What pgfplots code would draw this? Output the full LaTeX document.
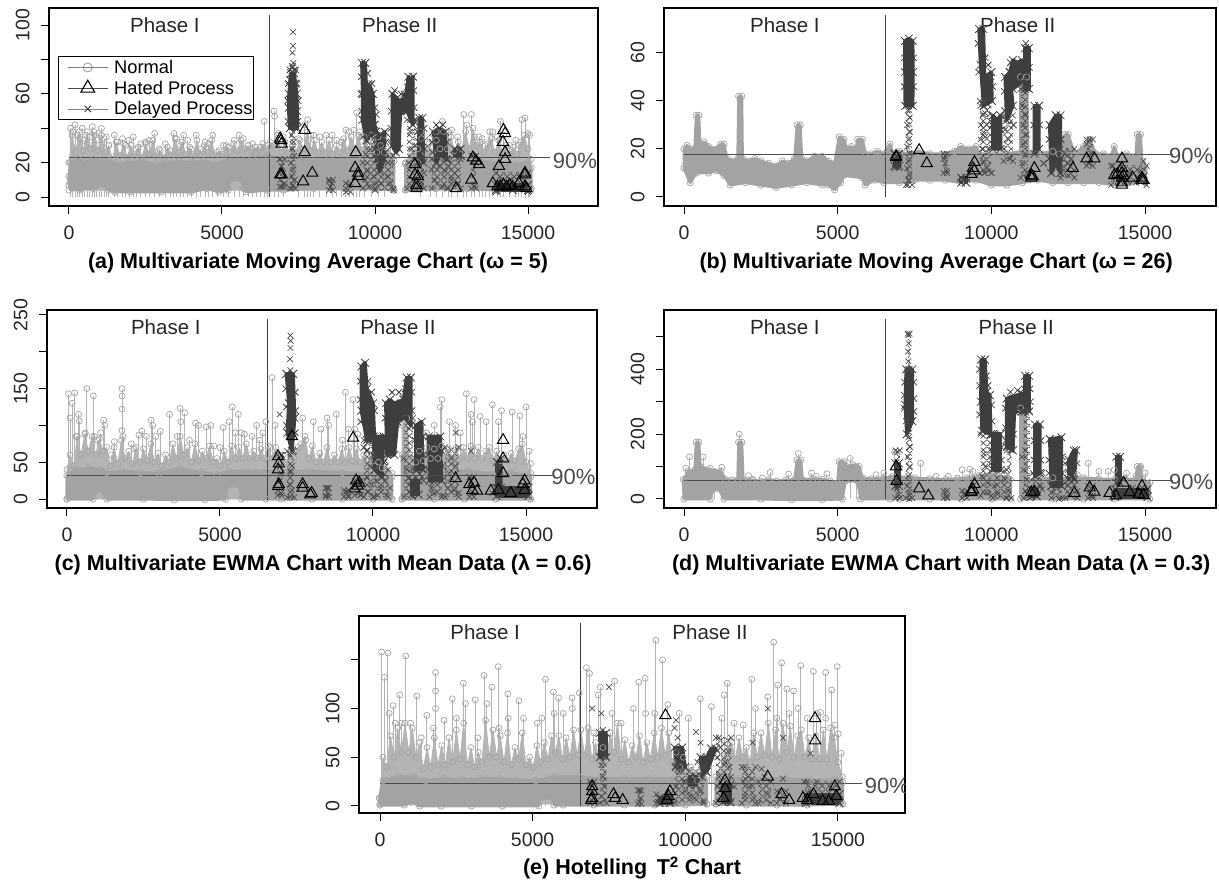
\documentclass[border=0pt]{standalone}
\usepackage{fontspec}
\setmainfont{Liberation Sans}
\usepackage{pgfplots}
\usetikzlibrary{patterns}
\pgfplotsset{compat=1.18}
\definecolor{ngray}{HTML}{A3A3A3}
\definecolor{nstick}{HTML}{B4B4B4}
\definecolor{dk}{HTML}{3E3E3E}
\definecolor{dx}{HTML}{4A4A4A}
\pgfdeclarepatternformonly{xhatch}{\pgfpointorigin}{\pgfqpoint{7pt}{7pt}}{\pgfqpoint{7pt}{7pt}}{%
 \pgfsetlinewidth{.75pt}
 \pgfpathmoveto{\pgfqpoint{0pt}{0pt}}\pgfpathlineto{\pgfqpoint{7pt}{7pt}}
 \pgfpathmoveto{\pgfqpoint{0pt}{7pt}}\pgfpathlineto{\pgfqpoint{7pt}{0pt}}
 \pgfusepath{stroke}}
\tikzset{
 txt/.style={font=\fontsize{20.5}{22}\selectfont,text=black!85},
 pct/.style={font=\fontsize{22}{24}\selectfont,text=black!70},
}
\pgfplotsset{
 panel/.style={scale only axis,axis line style={line width=1.5pt,black},
  tick align=outside,xtick pos=bottom,ytick pos=left,major tick length=8pt,
  tick style={line width=1pt,black},scaled ticks=false,
  xtick={0,5000,10000,15000},xticklabels={0,5000,10000,15000},
  tick label style={font=\fontsize{19.5}{22}\selectfont,text=black!85},
  xticklabel style={yshift=-8pt},
  yticklabel style={rotate=90,anchor=south,yshift=8pt},
  xlabel style={font=\fontsize{21.5}{24}\selectfont\bfseries,anchor=center},
  clip=true},
 band/.style={forget plot,draw=ngray,fill=ngray,line width=3pt,line join=round,mark=o,mark size=3.2,mark options={draw=ngray,fill=none,line width=.7pt}},
 haze/.style={forget plot,draw=nstick,fill=nstick,line width=.8pt,line join=round,mark=o,mark size=3,mark options={draw=ngray,fill=none,line width=.7pt}},
 peaks/.style={forget plot,ycomb,draw=nstick,line width=.9pt,mark=o,mark size=3,mark options={draw=ngray,fill=none,line width=.7pt}},
 hatch/.style={forget plot,draw=none,pattern=xhatch,pattern color=dx,mark=x,mark size=4,mark options={draw=dx,line width=.7pt}},
 mass/.style={forget plot,draw=dk,fill=dk,line width=3.5pt,line join=round,mark=x,mark size=5.5,mark options={draw=dk,fill=none,line width=.8pt}},
 xs/.style={forget plot,only marks,mark=x,mark size=4,mark options={draw=dx,line width=.7pt}},
 xe/.style={forget plot,only marks,mark=x,mark size=4.5,mark options={draw=dk,line width=.8pt}},
 tri/.style={forget plot,only marks,mark=triangle,mark size=6.5,mark options={draw=black,fill=none,line width=1pt}},
 lim/.style={forget plot,draw=black!70,line width=1pt},
 vl/.style={forget plot,draw=black!75,line width=.9pt},
 legend image code/.code={\path (0pt,0pt) (54pt,0pt);\draw[mark repeat=2,mark phase=2,#1] plot coordinates {(9pt,0pt)(29pt,0pt)(49pt,0pt)};},
}
\newcommand{\hb}[4]{\addplot[hatch] coordinates {(#1,#3)(#2,#3)(#2,#4)(#1,#4)} --cycle;}
\begin{document}
\begin{tikzpicture}[x=1pt,y=1pt]
\useasboundingbox (0,0) rectangle (1219,880);

%% ---------- (a)
\begin{axis}[panel,at={(49pt,674pt)},anchor=south west,width=549pt,height=198pt,
 xmin=-653,xmax=17287,ymin=-5.2,ymax=110,
 ytick={0,20,40,60,80,100},yticklabels={0,20,,60,,100},
 xlabel={(a) Multivariate Moving Average Chart (ω = 5)},
 xlabel style={at={(axis description cs:0.49,-0.288)}},
 legend style={at={(axis description cs:0.016,0.758)},anchor=north west,draw=black,line width=1.3pt,fill=white,font=\fontsize{18.3}{21}\selectfont,inner xsep=0pt,inner ysep=2pt,row sep=3pt,cells={anchor=west},nodes={inner xsep=1pt,inner ysep=1.5pt}},
 legend cell align=left]
\addlegendimage{draw=gray,line width=.7pt,mark=o,mark size=4.5,mark options={draw=gray,fill=none,line width=.6pt}}
\addlegendentry{Normal}
\addlegendimage{draw=black!70,line width=.7pt,mark=triangle,mark size=8,mark options={draw=black,fill=none,line width=1.1pt}}
\addlegendentry{Hated Process}
\addlegendimage{draw=gray,line width=.7pt,mark=x,mark size=4.5,mark options={draw=dk,fill=none,line width=1pt}}
\addlegendentry{Delayed Process}
\addplot[peaks] coordinates {(50,40)(120,38)(200,42)(280,36)(350,34)(430,40)(500,33)(600,38)(680,35)(760,41)(830,36)(900,33)(980,37)(1060,40)(1150,34)(1220,35)(1300,30)(1480,36)(1580,32)(1750,34)(1850,30)(1960,33)(2100,35)(2200,28)(2350,31)(2500,32)(2620,33)(2800,37)(2950,28)(3150,31)(3300,27)(3430,37)(3520,34)(3650,30)(3750,36)(3880,33)(4000,28)(4160,36)(4300,28)(4450,32)(4560,31)(4700,36)(4850,26)(5050,30)(5200,29)(5400,33)(5560,36)(5700,34)(5850,30)(6000,31)(6120,26)(6250,29)(6380,44)(6500,30)(6700,50)(6720,47)(6850,37)(7000,35)(7500,34)(7700,42)(7800,45)(7900,36)(8000,36)(8200,35)(8400,36)(8600,36)(8750,33)(8900,32)(9050,39)(9150,38)(9300,39)(9400,49)(9500,38)(9650,35)(9900,36)(10100,35)(10300,36)(11500,38)(11800,34)(12000,38)(12200,44)(12400,38)(12500,39)(12700,35)(12900,48)(13000,42)(13150,48)(13250,35)(13400,35)(13500,34)(13600,30)(13750,38)(13850,38)(14000,35)(14100,44)(14200,36)(14400,30)(14600,33)(14700,30)(14800,45)(14900,46)(15000,37)(15050,36)};
\addplot[haze] coordinates {(0,20)(100,36)(220,26)(340,38)(460,27)(580,36)(700,28)(820,38)(940,27)(1060,36)(1180,26)(1300,30)(1420,22)(1540,32)(1660,24)(1780,31)(1900,23)(2020,30)(2140,24)(2260,29)(2380,23)(2500,31)(2620,25)(2740,33)(2860,24)(2980,27)(3100,23)(3220,29)(3340,24)(3460,34)(3580,26)(3700,32)(3820,25)(3940,29)(4060,24)(4180,33)(4300,24)(4420,30)(4540,26)(4660,33)(4780,24)(4900,27)(5020,25)(5140,30)(5260,26)(5380,31)(5500,27)(5620,33)(5740,28)(5860,30)(5980,27)(6100,29)(6220,27)(6340,31)(6460,27)(6580,32)(6700,30)(6820,36)(6940,26)(7060,32)(7180,26)(7300,30)(7420,26)(7540,33)(7660,28)(7780,38)(7900,27)(8020,33)(8140,26)(8260,32)(8380,26)(8500,33)(8620,25)(8740,30)(8860,26)(8980,34)(9100,27)(9220,35)(9340,28)(9460,36)(9580,27)(9700,32)(9820,26)(9940,32)(10060,26)(10180,30)(10300,26)(10420,28)(10620,24)(10620,4)(0,4)} --cycle;
\addplot[haze] coordinates {(11000,4)(11000,20)(11200,26)(11400,28)(11520,34)(11640,26)(11760,31)(11880,26)(12000,33)(12120,28)(12240,38)(12360,28)(12480,35)(12600,27)(12720,32)(12840,28)(12960,38)(13080,28)(13200,40)(13320,30)(13440,32)(13560,26)(13680,31)(13800,34)(13920,26)(14040,33)(14160,26)(14280,30)(14400,25)(14520,29)(14640,25)(14760,32)(14880,36)(15000,28)(15100,22)(15100,4)} --cycle;
\addplot[band] coordinates {(0,12)(50,20)(300,22)(500,20)(800,22)(1000,21)(1300,21)(1500,19)(2000,20)(2400,21)(2800,19)(3200,20)(3600,21)(4000,20)(4400,21)(4800,19)(5200,22)(5600,22)(6000,23)(6500,24)(7000,22)(7500,23)(8000,21)(8500,22)(9000,22)(9500,21)(10000,21)(10620,21)(10620,4)(10000,5)(9000,5)(8000,5)(7000,4)(6500,4)(5800,3)(5700,5)(5650,10)(5250,10)(5200,4)(4900,3)(4500,5)(4000,3)(3000,3)(2000,3)(1500,3)(1300,4)(1150,7)(900,7)(800,5)(400,5)(350,4)(100,5)(0,7)} --cycle;
\addplot[band] coordinates {(11000,4)(11000,19)(11400,20)(11800,20)(12200,21)(12600,21)(13000,21)(13400,21)(13800,20)(14200,19)(14600,19)(15000,20)(15100,17)(15100,5)(14000,4)(13000,5)(12000,5)} --cycle;
\hb{6880}{7050}{6}{22}\hb{7220}{7400}{5}{40}\hb{9600}{10000}{5}{35}\hb{10000}{10600}{4}{24}\hb{11050}{11300}{5}{45}\hb{11350}{11600}{5}{22}\hb{11850}{12350}{5}{22}\hb{12400}{12800}{5}{22}\hb{13150}{13300}{5}{24}\hb{13950}{15000}{3}{14}\hb{8500}{8620}{4}{10}\hb{9050}{9200}{3}{8}
\addplot[mass] coordinates {(7210,40)(7180,52)(7190,60)(7230,68)(7260,72)(7310,70)(7360,72)(7400,66)(7440,60)(7460,50)(7460,40)} --cycle;
\addplot[mass] coordinates {(9570,78)(9680,78)(9720,62)(9820,65)(9930,60)(9990,42)(10030,38)(9850,36)(9720,33)(9590,45)(9600,60)} --cycle;
\addplot[mass] coordinates {(10020,38)(10180,36)(10320,38)(10290,22)(10150,15)(10050,22)} --cycle;
\addplot[mass] coordinates {(10570,60)(10560,30)(10680,26)(10780,28)(10830,50)(11000,50)(11000,58)(10800,56)} --cycle;
\addplot[mass] coordinates {(11000,58)(11090,70)(11170,68)(11240,70)(11240,42)(11050,50)} --cycle;
\addplot[mass] coordinates {(11450,46)(11550,46)(11570,32)(11580,20)(11410,20)(11430,32)} --cycle;
\addplot[mass] coordinates {(11900,38)(12100,40)(12300,38)(12330,22)(12150,24)(12000,20)} --cycle;
\addplot[mass] coordinates {(12600,28)(12800,28)(12800,24)(12600,24)} --cycle;
\addplot[mass] coordinates {(13950,7)(14500,7)(15000,7)(15000,4)(14500,4)(13950,4)} --cycle;
\addplot[xe] coordinates {(7160,44)(7150,56)(7170,66)(7480,44)(7490,56)(7450,66)(7300,76)(7220,74)(7400,74)(9550,70)(9540,60)(9560,50)(9760,72)(9800,66)(9900,66)(10000,52)(10040,48)(10350,32)(10340,26)(10000,28)(10530,50)(10520,40)(10540,34)(10640,62)(10850,60)(10950,60)(11060,64)(11270,62)(11280,52)(11270,44)(11390,38)(11600,40)(11620,28)(11860,32)(11870,26)(12000,42)(12220,42)(12350,32)};
\addplot[xs] coordinates {(7320,96)(7320,88)(7300,84)(7330,78)(7290,75)(7350,74)(7280,36)(7340,32)(7300,28)(7360,24)(7250,20)(7330,16)(7280,12)(7380,10)(7320,7)(7270,5)(6900,22)(6950,18)(7000,14)(6900,10)(7050,8)(6960,6)(8500,9)(8550,6)(8600,8)(9050,5)(9150,7)(9700,25)(9600,20)(9750,15)(9850,28)(9950,12)(10050,8)(9680,10)(9800,6)(10200,8)(10300,20)(10400,12)(10500,8)(10550,20)(10600,5)(11150,38)(11200,28)(11100,20)(11250,10)(11300,30)(11400,18)(11500,8)(11600,14)(11850,16)(11950,10)(12100,18)(12200,6)(12300,15)(12400,18)(12500,10)(12600,14)(12700,8)(13200,24)(13300,20)(13250,6)(14100,10)(14400,10)(14700,12)(14900,6)};
\addplot[tri] coordinates {(6900,34)(6930,33)(6950,31)(6900,13)(6950,13)(7700,39)(7700,26)(7950,14)(7650,9)(9370,26)(9350,17)(9450,14)(9450,12)(9350,8)(11300,19)(11300,13)(11400,12)(11350,5)(11350,7)(12650,5)(13150,10)(13300,21)(13400,19)(13200,23)(13850,8)(14050,18)(14200,39)(14250,37)(14180,32)(14250,26)(14250,22)(14900,14)(14900,13)(14000,6)(14100,6)(14200,7)(14300,6)(14400,7)(14500,6)(14700,8)(14900,6)(14950,5)};
\addplot[lim] coordinates {(0,23)(15720,23)};
\addplot[vl] coordinates {(6550,0)(6550,106)};
\node[txt] at (axis description cs:0.211,0.914) {Phase I};
\node[txt] at (axis description cs:0.639,0.914) {Phase II};
\node[pct] at (axis description cs:0.958,0.227) {90\%};
\end{axis}

%% ---------- (b)
\begin{axis}[panel,at={(664pt,674pt)},anchor=south west,width=552pt,height=198pt,
 xmin=-651,xmax=17310,ymin=-3.75,ymax=78.75,
 ytick={0,20,40,60},yticklabels={0,20,40,60},
 xlabel={(b) Multivariate Moving Average Chart (ω = 26)},
 xlabel style={at={(axis description cs:0.493,-0.288)}}]
\addplot[band] coordinates {(0,20)(100,21.5)(200,20)(350,20)(400,34)(480,34)(520,22)(650,23)(800,21)(1000,20)(1200,22)(1300,22)(1400,16)(1600,15)(1750,16)(1780,42)(1880,42)(1900,16)(2100,15)(2300,16)(2500,15)(2750,14)(3000,13)(3200,15)(3400,14)(3600,16)(3680,30)(3780,30)(3830,16)(4000,15)(4250,17)(4500,17)(4700,15)(4900,14)(5050,25)(5200,24)(5300,20)(5450,21)(5600,20)(5650,24)(5800,24)(5900,18)(6100,18)(6300,19)(6500,18)(6700,22)(6800,18)(7000,19)(7200,18)(7600,19)(8000,18)(8400,18)(8800,19)(9000,21)(9250,20)(9500,21)(9600,18)(10000,18)(10500,18)(11000,19)(11500,18)(12000,19)(12200,18)(12400,26)(12500,26)(12700,18)(13000,21)(13200,24)(13400,18)(13650,18)(13900,17)(14000,21)(14100,17)(14400,18)(14700,17)(14750,26)(14850,26)(14900,15)(15000,12)(15000,6)(14500,6)(14000,5)(13500,6)(13000,6)(12500,6)(12000,6)(11500,7)(11000,6)(10500,5)(10000,5)(9500,7)(9000,6)(8500,7)(8000,7)(7500,7)(7000,6)(6500,6)(6200,7)(5900,5)(5800,8)(5200,9)(5100,6)(4900,3)(4700,5)(4500,5)(4000,6)(3500,5)(3000,4)(2500,5)(2000,6)(1500,5)(1300,9)(1050,11)(800,10)(400,10)(200,6)(0,12)} --cycle;
\addplot[band] coordinates {(10950,15)(10950,50)(11150,50)(11200,15)} --cycle;
\hb{7220}{7420}{5}{38}\hb{6850}{7000}{12}{18}\hb{9630}{9780}{10}{40}\hb{9780}{10000}{10}{50}\hb{8450}{8560}{10}{18}\hb{10400}{10700}{15}{34}\hb{10950}{11200}{8}{45}\hb{12250}{12700}{8}{20}\hb{13100}{13300}{13}{24}\hb{13900}{15050}{5}{13}
\addplot[mass] coordinates {(7190,65)(7310,66)(7440,65)(7450,52)(7440,38)(7200,38)(7190,52)} --cycle;
\addplot[mass] coordinates {(9600,70)(9740,70)(9780,50)(10000,52)(10020,40)(9750,38)(9650,55)} --cycle;
\addplot[mass] coordinates {(10050,34)(10180,32)(10300,34)(10300,20)(10050,20)} --cycle;
\addplot[mass] coordinates {(10450,50)(10600,52)(10700,38)(10500,32)} --cycle;
\addplot[mass] coordinates {(10600,52)(10700,57)(10850,56)(11000,57)(11000,48)(10700,45)} --cycle;
\addplot[mass] coordinates {(11100,62)(11220,62)(11220,45)(11100,45)} --cycle;
\addplot[mass] coordinates {(11400,38)(11550,38)(11550,20)(11400,18)} --cycle;
\addplot[mass] coordinates {(11900,30)(12100,34)(12250,34)(12250,10)(12100,14)(11950,10)} --cycle;
\addplot[mass] coordinates {(6850,18)(7000,18)(7000,13)(6850,13)} --cycle;
\addplot[mass] coordinates {(9020,8)(9180,8)(9180,6)(9020,6)} --cycle;
\addplot[xe] coordinates {(7170,58)(7170,46)(7470,58)(7470,46)(9570,64)(9590,52)(9800,58)(9900,55)(10040,46)(10020,30)(10320,28)(10420,44)(10430,36)(10720,30)(10620,56)(11120,64)(11240,54)(11080,52)(11380,30)(11570,30)(11880,24)(11880,16)(12270,24)(12270,16)(11700,14)};
\addplot[xs] coordinates {(7280,36)(7340,33)(7260,30)(7350,27)(7300,24)(7260,21)(7340,18)(7300,15)(7260,12)(7340,9)(7300,7)(7280,5)(8500,17)(8500,14)(8550,11)(8450,16)(9640,38)(9720,34)(9660,30)(9750,27)(9650,24)(9700,20)(9800,35)(9850,30)(9800,25)(9900,20)(9750,15)(9850,12)(10000,10)(10450,28)(10550,24)(10400,20)(10600,16)(11000,38)(11100,34)(11050,30)(11150,26)(11050,22)(11100,18)(11000,14)(11150,10)(12300,12)(12400,18)(12500,14)(12600,16)(12500,9)(12700,11)(13100,22)(13200,24)(13250,18)(13150,14)(13950,13)(14050,8)(14200,14)(14400,7)(14500,10)(14700,6)(14950,15)(15000,9)(14850,11)};
\addplot[tri] coordinates {(6900,17)(6900,16.5)(7650,19.5)(7900,14)(9400,12)(9450,14.5)(9450,11)(9350,9.5)(11300,8)(11350,8.5)(11400,12)(11300,9)(12650,12)(13100,16)(13350,16)(14000,9)(14100,9.5)(14250,16)(14250,12)(14250,10)(14250,8)(14250,6)(14250,5)(14300,9)(14600,8)(14900,8)(14900,7)(14950,7)};
\addplot[lim] coordinates {(0,17.5)(15900,17.5)};
\addplot[vl] coordinates {(6550,0)(6550,76)};
\node[txt] at (axis description cs:0.219,0.914) {Phase I};
\node[txt] at (axis description cs:0.641,0.914) {Phase II};
\node[pct] at (axis description cs:0.955,0.252) {90\%};
\end{axis}

%% ---------- (c)
\begin{axis}[panel,at={(47pt,372pt)},anchor=south west,width=550pt,height=198pt,
 xmin=-653,xmax=17320,ymin=-12.2,ymax=256.8,
 ytick={0,50,100,150,200,250},yticklabels={0,50,,150,,250},
 xlabel={(c) Multivariate EWMA Chart with Mean Data (λ = 0.6)},
 xlabel style={at={(axis description cs:0.502,-0.288)}}]
\addplot[haze] coordinates {(0,40)(100,60)(220,45)(340,85)(460,60)(580,88)(700,65)(820,85)(940,60)(1060,82)(1180,65)(1300,70)(1420,45)(1540,70)(1660,48)(1780,80)(1900,55)(2020,65)(2140,48)(2260,70)(2380,50)(2500,68)(2620,52)(2740,75)(2860,50)(2980,62)(3100,45)(3220,60)(3340,50)(3460,75)(3580,55)(3700,85)(3820,60)(3940,70)(4060,50)(4180,75)(4300,52)(4420,65)(4540,55)(4660,72)(4780,50)(4900,55)(5020,45)(5140,65)(5260,50)(5380,72)(5500,55)(5620,70)(5740,55)(5860,75)(5980,55)(6100,65)(6220,55)(6340,68)(6460,55)(6580,72)(6700,55)(6820,70)(6940,55)(7060,60)(7180,50)(7300,60)(7420,55)(7540,70)(7660,75)(7780,85)(7900,55)(8020,72)(8140,50)(8260,62)(8380,50)(8500,70)(8620,50)(8740,60)(8860,50)(8980,68)(9100,50)(9220,70)(9340,52)(9460,68)(9580,50)(9700,60)(9820,50)(9940,60)(10060,45)(10180,50)(10300,42)(10420,40)(10620,35)(10620,0)(0,0)} --cycle;
\addplot[haze] coordinates {(10950,0)(10950,100)(11100,110)(11200,60)(11400,50)(11520,65)(11640,52)(11760,70)(11880,55)(12000,68)(12120,55)(12240,72)(12360,55)(12480,68)(12600,55)(12720,70)(12840,55)(12960,70)(13080,55)(13200,72)(13320,55)(13440,70)(13560,55)(13680,65)(13800,70)(13920,52)(14040,65)(14160,52)(14280,60)(14400,52)(14520,62)(14640,52)(14760,68)(14880,75)(15000,50)(15150,35)(15150,0)} --cycle;
\addplot[peaks] coordinates {(50,143)(100,110)(170,130)(250,144)(300,85)(380,115)(400,106)(650,150)(600,90)(860,140)(900,85)(1000,80)(1100,90)(1200,107)(1230,100)(1450,60)(1550,78)(1800,150)(1800,140)(1800,122)(1800,93)(1830,85)(2100,75)(2200,68)(2350,87)(2450,92)(2600,85)(2750,107)(2800,100)(2900,85)(3050,92)(3350,115)(3600,85)(3700,123)(3720,105)(3850,117)(4000,80)(4200,103)(4300,100)(4550,98)(4700,100)(4800,72)(5000,70)(5100,97)(5300,105)(5400,125)(5600,115)(5500,90)(5700,90)(5800,88)(6050,85)(6200,100)(6300,80)(6500,105)(6400,90)(6650,70)(6700,165)(6800,100)(7700,110)(7800,80)(8050,105)(8300,95)(8500,110)(8550,100)(8800,115)(9000,80)(9100,145)(9200,95)(9350,135)(9400,95)(9500,88)(11750,90)(12000,100)(12200,125)(12250,135)(12500,105)(12700,100)(12850,90)(13050,143)(13200,115)(13250,105)(13300,135)(13500,112)(13700,105)(13900,128)(14100,105)(14200,120)(14550,118)(14800,113)(14900,85)(15000,125)(15100,65)(15150,48)};
\addplot[band] coordinates {(0,32)(300,40)(700,42)(1100,40)(1300,36)(1800,38)(2400,36)(3000,35)(3700,42)(4400,36)(4900,33)(5300,38)(5900,38)(6500,38)(7000,38)(8000,38)(9000,36)(9800,35)(10620,30)(10620,0)(10000,0)(9000,0)(8000,0)(7000,0)(6500,0)(5700,0)(5650,18)(5250,18)(5180,0)(4500,-1)(3500,-1)(2500,0)(1300,0)(1150,12)(950,12)(850,0)(0,0)} --cycle;
\addplot[band] coordinates {(10950,0)(10950,60)(11200,38)(11700,36)(12400,38)(13100,38)(13900,34)(14500,36)(15150,30)(15150,0)(14000,0)(13000,0)(12000,0)} --cycle;
\hb{6880}{7020}{5}{60}\hb{7200}{7420}{2}{65}\hb{8450}{8560}{3}{15}\hb{9050}{9200}{3}{12}\hb{9400}{9600}{5}{25}\hb{9700}{10000}{3}{80}\hb{10050}{10500}{3}{60}\hb{11000}{11300}{3}{110}\hb{11300}{11650}{25}{40}\hb{11850}{12250}{3}{25}\hb{12350}{12800}{3}{70}\hb{13150}{13300}{3}{30}
\addplot[mass] coordinates {(7170,170)(7390,170)(7440,110)(7350,65)(7200,90)(7250,130)} --cycle;
\addplot[mass] coordinates {(9620,180)(9740,185)(9800,150)(10000,130)(10050,80)(9800,80)(9620,120)} --cycle;
\addplot[mass] coordinates {(10020,85)(10340,85)(10300,30)(10050,40)} --cycle;
\addplot[mass] coordinates {(10420,130)(10550,135)(10700,130)(11000,135)(11000,110)(10800,105)(10700,60)(10450,60)} --cycle;
\addplot[mass] coordinates {(11000,135)(11100,165)(11240,165)(11240,100)(11050,110)} --cycle;
\addplot[mass] coordinates {(11400,100)(11590,105)(11630,40)(11400,40)} --cycle;
\addplot[mass] coordinates {(11820,85)(12200,85)(12240,25)(11850,25)} --cycle;
\addplot[mass] coordinates {(11260,25)(11490,25)(11490,6)(11260,6)} --cycle;
\addplot[mass] coordinates {(14030,15)(15080,15)(15080,4)(14030,4)} --cycle;
\addplot[mass] coordinates {(14050,50)(14180,55)(14180,15)(14050,15)} --cycle;
\addplot[xe] coordinates {(7150,150)(7170,125)(7180,100)(7460,145)(7470,120)(7460,90)(9590,160)(9590,135)(9600,105)(9840,160)(9950,145)(10050,120)(9700,70)(9800,65)(10370,70)(10360,50)(10000,60)(10400,110)(10400,85)(10620,145)(10850,145)(11060,150)(11270,145)(11270,120)(11370,80)(11370,55)(11640,85)(11650,60)(11790,60)(11790,40)(12260,65)(12270,45)};
\addplot[xs] coordinates {(7300,222)(7310,215)(7300,205)(7290,190)(7300,175)(6950,115)(7000,60)(6950,45)(7000,35)(6950,25)(6900,12)(7000,8)(7300,60)(7350,45)(7300,36)(7280,20)(7350,12)(7300,3)(8500,15)(8550,8)(8450,5)(9100,10)(9200,5)(9450,20)(9550,12)(9600,6)(9900,45)(9800,30)(9950,20)(9850,10)(10100,25)(10250,15)(10150,5)(10400,25)(10500,40)(10550,15)(10450,5)(11000,55)(11100,40)(11150,28)(11200,10)(11600,30)(11900,15)(12000,8)(12300,5)(12450,15)(12500,35)(12550,55)(12650,12)(12700,90)(12700,45)(12800,8)(13200,65)(13200,25)(13200,8)(13900,8)};
\addplot[tri] coordinates {(6900,58)(6920,48)(6900,40)(6920,20)(6900,17)(7350,85)(7700,20)(7700,15)(7950,6)(8000,8)(9350,83)(9400,14)(9500,18)(9550,22)(9450,25)(12700,28)(13150,20)(13250,12)(13300,22)(13400,11)(13850,11)(14250,80)(14250,55)(14250,35)(14100,12)(14500,8)(14900,20)(14950,25)(14950,12)};
\addplot[lim] coordinates {(0,32)(15900,32)};
\addplot[vl] coordinates {(6550,-2)(6550,245)};
\node[txt] at (axis description cs:0.216,0.914) {Phase I};
\node[txt] at (axis description cs:0.638,0.914) {Phase II};
\node[pct] at (axis description cs:0.957,0.157) {90\%};
\end{axis}

%% ---------- (d)
\begin{axis}[panel,at={(664pt,372pt)},anchor=south west,width=552pt,height=198pt,
 xmin=-651,xmax=17310,ymin=-27.8,ymax=583,
 ytick={0,100,200,300,400,500},yticklabels={0,,200,,400,},
 xlabel={(d) Multivariate EWMA Chart with Mean Data (λ = 0.3)},
 xlabel style={at={(axis description cs:0.502,-0.288)}}]
\addplot[peaks] coordinates {(60,95)(180,130)(300,70)(620,130)(850,95)(1000,85)(1230,98)(1800,200)(2100,72)(2250,60)(2550,65)(2800,82)(3400,77)(3720,140)(4150,80)(4300,70)(4650,78)(5400,125)(5600,100)(6250,75)(6500,80)(6850,145)(7700,110)(8200,70)(8600,70)(8900,65)(9050,90)(9300,92)(9400,85)(12800,75)(13150,110)(13500,85)(13800,85)(14000,90)(14400,80)(14700,70)(14850,97)(15000,80)};
\addplot[band] coordinates {(-20,60)(150,85)(350,90)(400,175)(480,175)(530,100)(800,90)(1200,85)(1350,60)(1550,58)(1750,60)(1780,175)(1880,175)(1920,60)(2200,58)(2500,55)(2750,60)(3000,55)(3300,58)(3600,60)(3680,120)(3800,120)(3850,60)(4200,62)(4500,60)(4750,55)(5000,50)(5050,115)(5200,115)(5300,100)(5500,105)(5700,100)(5800,65)(6100,62)(6500,65)(6800,70)(7500,65)(8000,62)(8500,60)(8900,62)(9200,65)(9600,72)(10000,75)(10500,65)(10620,60)(10620,0)(10000,0)(9000,0)(8000,0)(7000,0)(6700,0)(5750,0)(5650,55)(5250,55)(5150,0)(4500,-2)(3500,-2)(2500,0)(1300,0)(1150,30)(950,30)(850,0)(0,0)} --cycle;
\addplot[band] coordinates {(10950,0)(10950,280)(11100,270)(11150,60)(11600,62)(12000,65)(12500,62)(13000,65)(13500,62)(14000,60)(14350,62)(14700,60)(14750,100)(14850,100)(14900,60)(15150,50)(15150,0)(14000,0)(13000,0)(12000,0)} --cycle;
\hb{6880}{7020}{3}{150}\hb{7220}{7420}{3}{240}\hb{7280}{7340}{400}{510}\hb{8450}{8560}{3}{25}\hb{9050}{9200}{3}{25}\hb{9650}{10000}{10}{200}\hb{10050}{10500}{3}{90}\hb{10500}{10650}{3}{150}\hb{11050}{11250}{3}{270}\hb{11350}{11650}{30}{80}\hb{11950}{12300}{3}{40}\hb{12400}{12800}{3}{110}\hb{13150}{13300}{3}{40}
\addplot[mass] coordinates {(7200,290)(7230,400)(7430,400)(7430,240)(7250,200)} --cycle;
\addplot[mass] coordinates {(9670,430)(9790,430)(9850,330)(9950,320)(9980,200)(9700,210)(9660,300)} --cycle;
\addplot[mass] coordinates {(10050,200)(10300,200)(10300,90)(10050,90)} --cycle;
\addplot[mass] coordinates {(10500,310)(11000,325)(11000,270)(10750,270)(10700,150)(10500,160)} --cycle;
\addplot[mass] coordinates {(11100,380)(11230,380)(11230,270)(11100,270)} --cycle;
\addplot[mass] coordinates {(11420,230)(11580,230)(11580,80)(11420,70)} --cycle;
\addplot[mass] coordinates {(11900,185)(12280,190)(12280,40)(11950,40)} --cycle;
\addplot[mass] coordinates {(12680,150)(12760,150)(12700,60)(12520,60)(12520,120)} --cycle;
\addplot[mass] coordinates {(14070,130)(14190,130)(14190,50)(14070,50)} --cycle;
\addplot[mass] coordinates {(14030,30)(15080,30)(15080,6)(14030,6)} --cycle;
\addplot[mass] coordinates {(6880,110)(6990,110)(6990,40)(6880,40)} --cycle;
\addplot[mass] coordinates {(11300,30)(11480,30)(11480,8)(11300,8)} --cycle;
\addplot[xe] coordinates {(7180,360)(7170,320)(7170,280)(7480,360)(7480,310)(7480,270)(9620,400)(9620,350)(9620,260)(9840,380)(9890,350)(10010,290)(10020,240)(10020,150)(10330,160)(10330,120)(10460,280)(10460,220)(10470,180)(10720,200)(10620,330)(10850,335)(11070,340)(11260,340)(11270,300)(11390,180)(11390,120)(11610,180)(11610,120)(11870,120)(11870,80)(12310,130)(12310,80)};
\addplot[xs] coordinates {(7300,505)(7310,480)(7290,455)(7300,425)(7320,400)(7300,190)(7350,160)(7280,130)(7350,100)(7300,70)(7260,40)(7340,20)(7330,0)(6950,145)(6920,30)(7000,12)(8500,20)(8550,8)(9100,15)(9400,40)(9750,140)(9800,100)(9700,70)(9900,50)(9850,20)(10000,120)(10100,40)(10200,15)(10450,60)(10550,25)(11000,130)(11100,150)(11050,90)(11150,60)(11100,25)(11600,40)(11950,20)(12200,0)(12500,40)(12550,15)(12800,25)(13200,25)(13300,10)(14300,60)(14600,35)(14900,35)};
\addplot[tri] coordinates {(6900,100)(6920,55)(7650,32)(7950,10)(9450,45)(9400,30)(9350,20)(9350,25)(11300,20)(11400,22)(12700,18)(13200,35)(13350,22)(13850,18)(14050,10)(14300,50)(14500,20)(14900,40)(14950,12)(14800,15)};
\addplot[lim] coordinates {(0,57)(15900,57)};
\addplot[vl] coordinates {(6550,0)(6550,555)};
\node[txt] at (axis description cs:0.219,0.914) {Phase I};
\node[txt] at (axis description cs:0.638,0.914) {Phase II};
\node[pct] at (axis description cs:0.955,0.13) {90\%};
\end{axis}

%% ---------- (e)
\begin{axis}[panel,at={(359pt,67pt)},anchor=south west,width=546pt,height=197pt,
 xmin=-688,xmax=17197,ymin=-7.2,ymax=195,
 ytick={0,50,100,150},yticklabels={0,50,100,},
 xlabel={(e) Hotelling\, T\textsuperscript{2} Chart},
 xlabel style={at={(axis description cs:0.5,-0.279)}}]
\addplot[haze] coordinates {(-20,8)(100,50)(220,40)(340,72)(460,50)(580,80)(700,55)(820,85)(940,55)(1060,80)(1180,50)(1300,65)(1420,38)(1540,60)(1660,40)(1780,70)(1900,42)(2020,62)(2140,42)(2260,70)(2380,45)(2500,78)(2620,48)(2740,85)(2860,42)(2980,60)(3100,40)(3220,55)(3340,45)(3460,88)(3580,50)(3700,78)(3820,50)(3940,72)(4060,45)(4180,75)(4300,42)(4420,60)(4540,48)(4660,75)(4780,42)(4900,50)(5020,40)(5140,62)(5260,45)(5380,65)(5500,48)(5620,72)(5740,55)(5860,72)(5980,48)(6100,70)(6220,50)(6340,78)(6460,52)(6580,78)(6700,52)(6820,80)(6940,48)(7060,65)(7180,45)(7300,60)(7420,48)(7540,75)(7660,55)(7780,85)(7900,48)(8020,68)(8140,45)(8260,62)(8380,50)(8500,72)(8620,45)(8740,65)(8860,48)(8980,75)(9100,50)(9220,80)(9340,52)(9460,75)(9580,45)(9700,55)(9820,40)(9940,50)(10060,35)(10180,40)(10300,32)(10420,35)(10700,30)(10700,2)(0,2)} --cycle;
\addplot[haze] coordinates {(11000,2)(11000,30)(11300,50)(11520,65)(11640,48)(11760,70)(11880,50)(12000,60)(12120,45)(12240,75)(12360,50)(12480,75)(12600,52)(12720,85)(12840,50)(12960,78)(13080,48)(13200,85)(13320,55)(13440,82)(13560,50)(13680,72)(13800,78)(13920,50)(14040,70)(14160,48)(14280,72)(14400,48)(14520,78)(14640,48)(14760,80)(14880,70)(15000,45)(15150,30)(15150,2)} --cycle;
\addplot[peaks] coordinates {(52,158)(260,157)(143,132)(845,154)(650,114)(430,103)(1210,113)(1534,93)(1820,137)(1820,118)(1820,100)(2730,126)(2366,110)(3120,109)(3406,134)(3666,122)(3874,143)(4186,115)(4550,108)(5421,130)(5681,117)(5850,111)(6292,111)(6526,116)(6760,142)(6864,136)(7683,128)(7215,122)(7150,114)(8476,127)(8684,131)(9035,170)(9256,150)(9425,104)(10855,102)(10491,110)(11375,126)(11271,114)(12181,130)(12896,168)(13156,147)(13026,124)(13325,120)(13780,144)(13546,118)(14196,138)(14599,137)(14976,143)(14794,119)(14430,96)(15015,74)(15106,54)(300,95)(500,85)(700,85)(1000,85)(1350,70)(1750,80)(2100,88)(2500,90)(2800,105)(3200,70)(3500,105)(3900,80)(4200,90)(4700,90)(5150,85)(5300,90)(5700,95)(6000,95)(6300,100)(7000,75)(7600,95)(7900,85)(8300,100)(8700,95)(9000,95)(9800,95)(10100,90)(11200,90)(11600,85)(11900,83)(12300,100)(12700,112)(13000,90)(13400,95)(13700,100)(14000,90)(14300,95)(14600,90)(14900,83)};
\addplot[band] coordinates {(-20,8)(100,26)(600,30)(1100,30)(1500,26)(2100,28)(2700,27)(3300,28)(3900,28)(4500,27)(5100,26)(5700,30)(6500,30)(7200,28)(8000,28)(8800,28)(9600,28)(10400,26)(10700,26)(10700,2)(10000,1)(9000,1)(8000,1)(7000,1)(6000,1)(5700,1)(5650,8)(5250,8)(5200,0)(4000,0)(3000,0)(2000,0)(1300,0)(1050,4)(800,1)(0,1)} --cycle;
\addplot[band] coordinates {(11000,2)(11000,26)(11700,28)(12500,28)(13300,28)(14100,26)(14900,27)(15150,25)(15150,2)(14000,1)(13000,1)(12000,1)} --cycle;
\hb{6880}{7020}{3}{25}\hb{7200}{7420}{3}{50}\hb{8450}{8560}{2}{16}\hb{9050}{9500}{3}{12}\hb{9650}{10600}{3}{40}\hb{11000}{11500}{3}{70}\hb{11850}{12300}{3}{40}\hb{12400}{12800}{3}{25}\hb{13000}{13300}{3}{15}\hb{13900}{15050}{3}{25}
\addplot[mass] coordinates {(7200,75)(7400,75)(7400,50)(7200,50)} --cycle;
\addplot[mass] coordinates {(9650,60)(9900,60)(10000,40)(9700,40)} --cycle;
\addplot[mass] coordinates {(10150,30)(10350,30)(10350,22)(10150,22)} --cycle;
\addplot[mass] coordinates {(10500,50)(10700,50)(10850,59)(11000,59)(10700,35)(10550,30)} --cycle;
\addplot[mass] coordinates {(11230,22)(11480,22)(11480,4)(11230,4)} --cycle;
\addplot[mass] coordinates {(13950,12)(15050,12)(15050,3)(13950,3)} --cycle;
\addplot[mass] coordinates {(9150,8)(9500,8)(9500,3)(9150,3)} --cycle;
\addplot[xs] coordinates {(7500,122)(6950,100)(7250,95)(7300,78)(7250,42)(7300,30)(7350,20)(7250,10)(6900,22)(6950,15)(7000,8)(8500,16)(8550,8)(8500,4)(9700,88)(9650,80)(9750,70)(10350,76)(10500,65)(10400,45)(9800,35)(9950,25)(10000,15)(10150,10)(10300,8)(10500,15)(10600,5)(9700,20)(11100,70)(11150,60)(11050,50)(11300,45)(11400,56)(11450,40)(11100,30)(11050,20)(11500,30)(11600,20)(11950,40)(12050,30)(11900,25)(12100,20)(11950,10)(12200,65)(12250,8)(12700,100)(12500,38)(12600,30)(12700,12)(13200,70)(13200,28)(13100,8)(14100,54)(14000,25)(14300,25)(14100,15)(14500,10)(14800,18)};
\addplot[tri] coordinates {(6950,20)(6950,15)(6950,8)(6920,6)(7650,12)(7700,8)(7950,6)(9350,93)(9500,15)(9450,10)(9400,6)(11300,26)(11300,18)(11250,8)(12700,30)(13150,12)(13400,6)(13850,8)(14250,90)(14250,67)(14200,12)(14000,6)(14500,5)(14900,20)(14950,10)(14700,5)};
\addplot[lim] coordinates {(0,23)(15800,23)};
\addplot[vl] coordinates {(6560,0)(6560,188)};
\node[txt] at (axis description cs:0.231,0.919) {Phase I};
\node[txt] at (axis description cs:0.643,0.919) {Phase II};
\node[pct] at (axis description cs:0.967,0.137) {90\%};
\end{axis}
\end{tikzpicture}
\end{document}
